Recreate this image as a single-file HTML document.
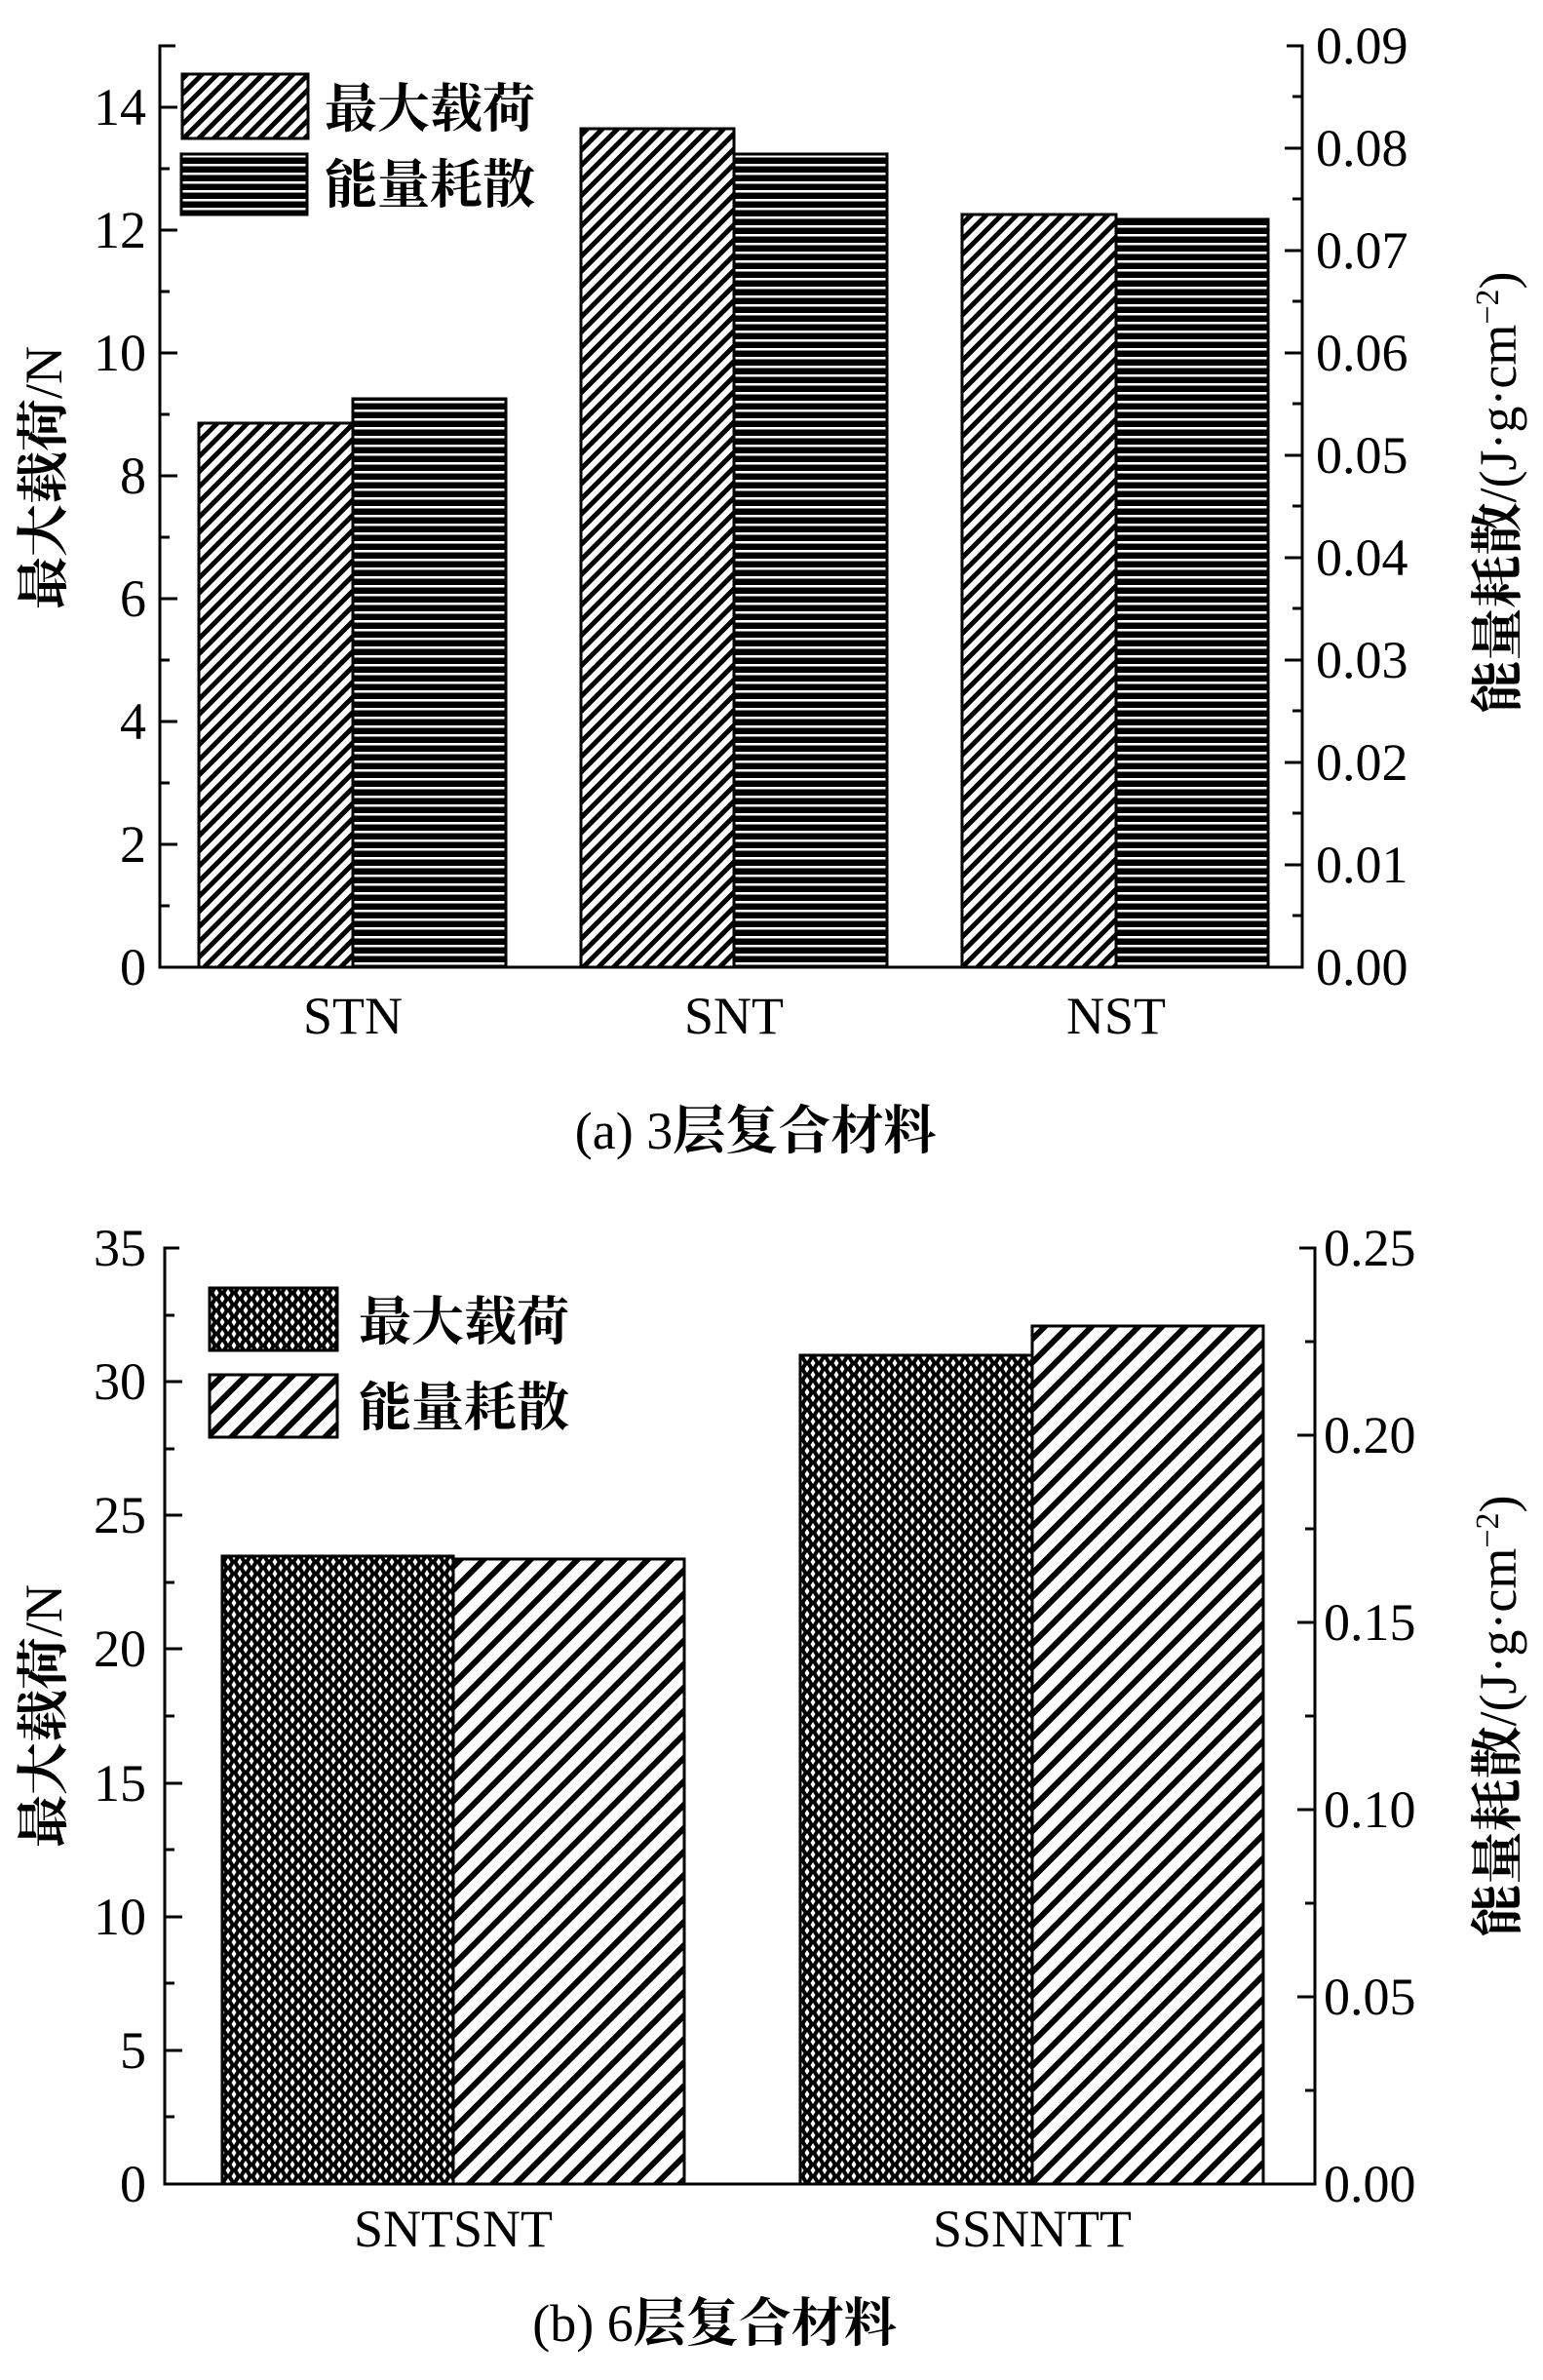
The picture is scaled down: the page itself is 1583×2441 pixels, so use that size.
<!DOCTYPE html>
<html><head><meta charset="utf-8"><style>
html,body{margin:0;padding:0;background:#fff;}
svg text{font-family:"Liberation Serif","Noto Serif CJK SC",serif;fill:#000;}
.cjk{font-family:"Noto Serif CJK SC","Liberation Serif",serif !important;font-weight:bold;}
</style></head><body>
<svg width="1583" height="2436" viewBox="0 0 1583 2436" xmlns="http://www.w3.org/2000/svg">
<defs>
<pattern id="diagA" width="11" height="11" patternUnits="userSpaceOnUse" patternTransform="rotate(45)">
<rect width="11" height="11" fill="#fff"/><rect width="5" height="11" fill="#000"/></pattern>
<pattern id="horiz" width="10" height="9" patternUnits="userSpaceOnUse">
<rect width="10" height="9" fill="#000"/><rect y="6" width="10" height="2.5" fill="#fff"/></pattern>
<pattern id="diagB" width="17" height="17" patternUnits="userSpaceOnUse" patternTransform="rotate(45)">
<rect width="17" height="17" fill="#fff"/><rect width="6" height="17" fill="#000"/></pattern>
<pattern id="cross" width="12" height="12" patternUnits="userSpaceOnUse">
<rect width="12" height="12" fill="#000"/><polygon points="6,2 8.5,6 6,10 3.5,6" fill="#fff"/><polygon points="0,-4 2.5,0 0,4 -2.5,0" fill="#fff"/><polygon points="12,-4 14.5,0 12,4 9.5,0" fill="#fff"/><polygon points="0,8 2.5,12 0,16 -2.5,12" fill="#fff"/><polygon points="12,8 14.5,12 12,16 9.5,12" fill="#fff"/></pattern>
</defs>

<!-- Panel A -->
<g stroke="#000" stroke-width="3">
<rect x="204" y="434" width="158" height="558" fill="url(#diagA)"/>
<rect x="362" y="409" width="157" height="583" fill="url(#horiz)"/>
<rect x="596" y="132" width="157" height="860" fill="url(#diagA)"/>
<rect x="753" y="158" width="157" height="834" fill="url(#horiz)"/>
<rect x="987" y="220" width="158" height="772" fill="url(#diagA)"/>
<rect x="1145" y="225" width="156" height="767" fill="url(#horiz)"/>
<rect x="187" y="76" width="129" height="66" fill="url(#diagA)"/>
<rect x="186" y="158" width="129" height="62" fill="url(#horiz)"/>
</g>
<g stroke="#000" stroke-width="3" fill="none">
<polyline points="180,47 164,47 164,992 1336,992 1336,47 1320,47"/>
<path d="M164,110h18M164,236h18M164,362h18M164,488h18M164,614h18M164,740h18M164,866h18
M164,173h10M164,299h10M164,425h10M164,551h10M164,677h10M164,803h10M164,929h10"/>
<path d="M1336,152h-18M1336,257h-18M1336,362h-18M1336,467h-18M1336,572h-18M1336,677h-18M1336,782h-18M1336,887h-18
M1336,99h-10M1336,204h-10M1336,309h-10M1336,414h-10M1336,519h-10M1336,624h-10M1336,729h-10M1336,834h-10M1336,939h-10"/>
</g>
<g font-size="54" text-anchor="end">
<text x="150" y="1010">0</text><text x="150" y="884">2</text><text x="150" y="758">4</text><text x="150" y="632">6</text><text x="150" y="506">8</text><text x="150" y="380">10</text><text x="150" y="254">12</text><text x="150" y="128">14</text>
</g>
<g font-size="54" text-anchor="start">
<text x="1350" y="1010">0.00</text><text x="1350" y="905">0.01</text><text x="1350" y="800">0.02</text><text x="1350" y="695">0.03</text><text x="1350" y="590">0.04</text><text x="1350" y="485">0.05</text><text x="1350" y="380">0.06</text><text x="1350" y="275">0.07</text><text x="1350" y="170">0.08</text><text x="1350" y="65">0.09</text>
</g>
<g font-size="54" text-anchor="middle">
<text x="362" y="1060">STN</text><text x="753" y="1060">SNT</text><text x="1145" y="1060">NST</text>
<text x="775" y="1178"><tspan>(a) 3</tspan><tspan class="cjk">层复合材料</tspan></text>
</g>
<text x="333" y="130" font-size="54" class="cjk">最大载荷</text>
<text x="333" y="208" font-size="54" class="cjk">能量耗散</text>
<text transform="translate(63,490) rotate(-90)" font-size="54" text-anchor="middle"><tspan class="cjk">最大载荷</tspan>/N</text>
<text transform="translate(1555,505) rotate(-90)" font-size="54" text-anchor="middle"><tspan class="cjk">能量耗散</tspan>/(J·g·cm<tspan dy="-18" font-size="34">−2</tspan><tspan dy="18">)</tspan></text>

<!-- Panel B -->
<g stroke="#000" stroke-width="3">
<rect x="228" y="1596" width="237" height="644" fill="url(#cross)"/>
<rect x="465" y="1599" width="237" height="641" fill="url(#diagB)"/>
<rect x="821" y="1390" width="238" height="850" fill="url(#cross)"/>
<rect x="1059" y="1360" width="237" height="880" fill="url(#diagB)"/>
<rect x="215" y="1321" width="131" height="64" fill="url(#cross)"/>
<rect x="215" y="1410" width="131" height="64" fill="url(#diagB)"/>
</g>
<g stroke="#000" stroke-width="3" fill="none">
<polyline points="184,1280 169,1280 169,2240 1349,2240 1349,1280 1333,1280"/>
<path d="M169,2103h18M169,1966h18M169,1829h18M169,1691h18M169,1554h18M169,1417h18
M169,2171h10M169,2034h10M169,1897h10M169,1760h10M169,1623h10M169,1486h10M169,1349h10"/>
<path d="M1349,2048h-18M1349,1856h-18M1349,1664h-18M1349,1472h-18
M1349,2144h-10M1349,1952h-10M1349,1760h-10M1349,1568h-10M1349,1376h-10"/>
</g>
<g font-size="54" text-anchor="end">
<text x="150" y="2258">0</text><text x="150" y="2121">5</text><text x="150" y="1984">10</text><text x="150" y="1847">15</text><text x="150" y="1709">20</text><text x="150" y="1572">25</text><text x="150" y="1435">30</text><text x="150" y="1298">35</text>
</g>
<g font-size="54" text-anchor="start">
<text x="1358" y="2258">0.00</text><text x="1358" y="2066">0.05</text><text x="1358" y="1874">0.10</text><text x="1358" y="1682">0.15</text><text x="1358" y="1490">0.20</text><text x="1358" y="1298">0.25</text>
</g>
<g font-size="54" text-anchor="middle">
<text x="465" y="2304">SNTSNT</text><text x="1059" y="2304">SSNNTT</text>
<text x="733" y="2401"><tspan>(b) 6</tspan><tspan class="cjk">层复合材料</tspan></text>
</g>
<text x="368" y="1374" font-size="54" class="cjk">最大载荷</text>
<text x="368" y="1462" font-size="54" class="cjk">能量耗散</text>
<text transform="translate(63,1760) rotate(-90)" font-size="54" text-anchor="middle"><tspan class="cjk">最大载荷</tspan>/N</text>
<text transform="translate(1555,1760) rotate(-90)" font-size="54" text-anchor="middle"><tspan class="cjk">能量耗散</tspan>/(J·g·cm<tspan dy="-18" font-size="34">−2</tspan><tspan dy="18">)</tspan></text>
</svg>
</body></html>
